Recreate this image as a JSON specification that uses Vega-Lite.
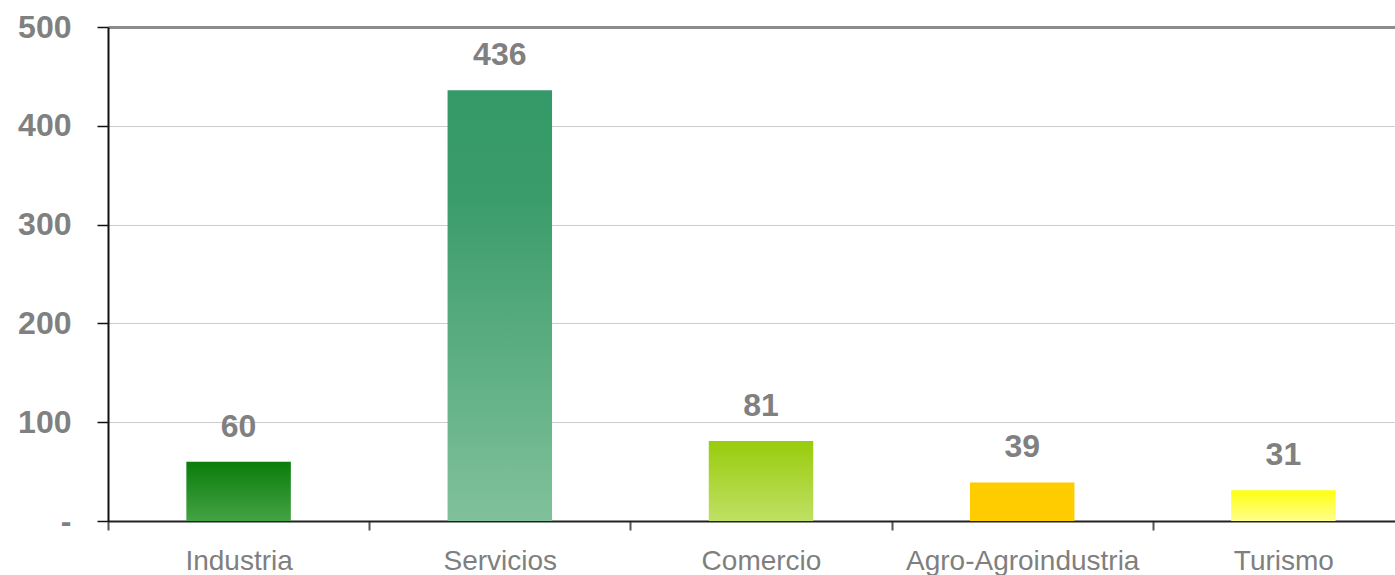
{
  "$schema": "https://vega.github.io/schema/vega-lite/v6.json",
  "autosize": {"type": "none"},
  "padding": {"left": 108, "top": 27, "right": 0, "bottom": 54},
  "width": 1306,
  "height": 494,
  "background": "white",
  "config": {"view": {"stroke": null}, "font": "Liberation Sans"},
  "data": {"values": [
    {"sector": "Industria", "value": 60},
    {"sector": "Servicios", "value": 436},
    {"sector": "Comercio", "value": 81},
    {"sector": "Agro-Agroindustria", "value": 39},
    {"sector": "Turismo", "value": 31}
  ]},
  "encoding": {
    "x": {"field": "sector", "type": "nominal", "sort": null,
      "scale": {"paddingInner": 0.6, "paddingOuter": 0.3},
      "axis": {"title": null, "labelAngle": 0, "labelFont": "Liberation Sans", "labelFontSize": 28, "labelColor": "#7f7f7f", "labelLimit": 0,
        "domainColor": "#222", "domainWidth": 2, "tickColor": "#555", "tickWidth": 2, "tickSize": 9, "tickOffset": -130.6, "labelOffset": 130.6,
        "labelPadding": 17, "grid": false}},
    "y": {"field": "value", "type": "quantitative",
      "scale": {"domain": [0, 500], "nice": false},
      "axis": {"title": null, "values": [0, 100, 200, 300, 400, 500], "labelExpr": "datum.value == 0 ? '-' : datum.label",
        "labelFont": "Liberation Sans", "labelFontSize": 32, "labelFontWeight": "bold", "labelColor": "#808080", "labelPadding": 26,
        "domainColor": "#111", "domainWidth": 2, "tickColor": "#111", "tickWidth": 1.5, "tickSize": 11,
        "grid": true,
        "gridColor": {"condition": {"test": "datum.value === 500", "value": "#8c8c8c"}, "value": "#cccccc"},
        "gridWidth": {"condition": {"test": "datum.value === 500", "value": 3}, "value": 1}}}
  },
  "layer": [
    {"mark": {"type": "bar"},
      "encoding": {
        "fill": {
          "condition": [
            {"test": "datum.sector === 'Industria'", "value": {"gradient": "linear", "x1": 0, "y1": 0, "x2": 0, "y2": 1, "stops": [{"offset": 0, "color": "#0a7d0a"}, {"offset": 1, "color": "#44a244"}]}},
            {"test": "datum.sector === 'Servicios'", "value": {"gradient": "linear", "x1": 0, "y1": 0, "x2": 0, "y2": 1, "stops": [{"offset": 0, "color": "#349968"}, {"offset": 0.25, "color": "#3b9c6b"}, {"offset": 1, "color": "#80c19b"}]}},
            {"test": "datum.sector === 'Comercio'", "value": {"gradient": "linear", "x1": 0, "y1": 0, "x2": 0, "y2": 1, "stops": [{"offset": 0, "color": "#99cc0c"}, {"offset": 1, "color": "#bfe064"}]}},
            {"test": "datum.sector === 'Turismo'", "value": {"gradient": "linear", "x1": 0, "y1": 0, "x2": 0, "y2": 1, "stops": [{"offset": 0, "color": "#ffff10"}, {"offset": 1, "color": "#ffff8c"}]}}
          ],
          "value": "#ffcc00"
        }
      }},
    {"mark": {"type": "text", "baseline": "alphabetic", "dy": -25, "fontSize": 32, "fontWeight": "bold", "color": "#808080", "font": "Liberation Sans"},
      "encoding": {"text": {"field": "value", "type": "quantitative"}}}
  ]
}
